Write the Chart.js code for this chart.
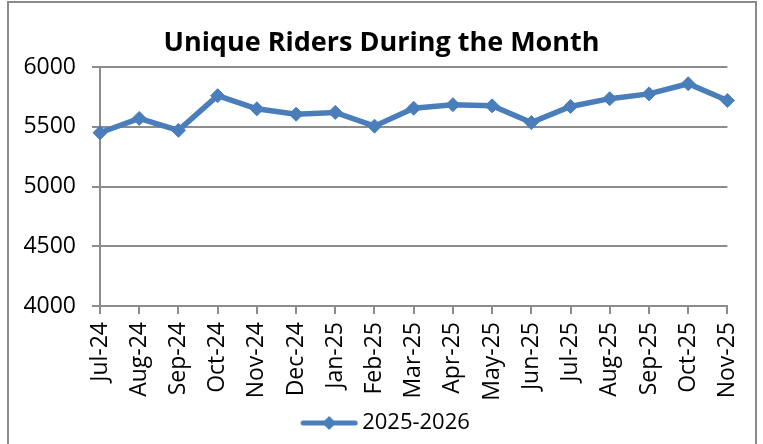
<!DOCTYPE html>
<html>
<head>
<meta charset="utf-8">
<script src="https://cdn.jsdelivr.net/npm/chart.js@4"></script>
<style>
html,body{margin:0;padding:0;background:#fff;}
#wrap{position:relative;width:763px;height:444px;}
</style>
</head>
<body>
<div id="wrap"><canvas id="c" width="763" height="444"></canvas></div>
<script>
const categories = ["Jul-24","Aug-24","Sep-24","Oct-24","Nov-24","Dec-24","Jan-25","Feb-25","Mar-25","Apr-25","May-25","Jun-25","Jul-25","Aug-25","Sep-25","Oct-25","Nov-25"];
const riders = [5450,5570,5470,5760,5650,5605,5620,5505,5655,5685,5675,5535,5670,5735,5775,5860,5720];
const seriesName = "2025-2026";
const chartTitle = "Unique Riders During the Month";
const yMin = 4000, yMax = 6000, yStep = 500;

const LINE = '#4A7EBB';
const GRID = '#8C8C8C';
const FONT = '"Open Sans", Lato, sans-serif';

// legend swatch: line with diamond
const sw = document.createElement('canvas');
sw.width = 58; sw.height = 16;
(function(){
  const g = sw.getContext('2d');
  g.strokeStyle = LINE; g.lineWidth = 5; g.lineCap = 'round';
  g.beginPath(); g.moveTo(3,8); g.lineTo(55,8); g.stroke();
  g.fillStyle = LINE;
  g.beginPath(); g.moveTo(29,1); g.lineTo(36,8); g.lineTo(29,15); g.lineTo(22,8); g.closePath(); g.fill();
})();

const framePlugin = {
  id: 'frame',
  beforeDraw(chart){
    const ctx = chart.ctx;
    ctx.save();
    ctx.fillStyle = '#fff';
    ctx.fillRect(0,0,chart.width,chart.height);
    ctx.strokeStyle = '#8A8A8A';
    ctx.lineWidth = 2;
    ctx.strokeRect(8, 2, 748, 470);
    ctx.restore();
    // centre title and legend on the whole chart frame, as in the original
    if (chart.titleBlock) { chart.titleBlock.left = 0; chart.titleBlock.right = 763; }
    if (chart.legend) { chart.legend.left = 0; chart.legend.right = 777; }
  }
};

new Chart(document.getElementById('c'), {
  type: 'line',
  data: {
    labels: categories,
    datasets: [{
      label: seriesName,
      data: riders,
      borderColor: LINE,
      backgroundColor: LINE,
      borderWidth: 5.5,
      pointStyle: 'rectRot',
      pointRadius: 7,
      pointBorderWidth: 1,
      pointBackgroundColor: LINE,
      pointBorderColor: LINE,
      tension: 0,
      fill: false
    }]
  },
  options: {
    responsive: false,
    animation: false,
    layout: { padding: { left: 0, right: 34, top: 0, bottom: 0 } },
    plugins: {
      title: {
        display: true,
        text: chartTitle,
        color: '#000',
        font: { family: FONT, size: 27, weight: 'bold' },
        padding: { top: 27, bottom: 7.6 }
      },
      legend: {
        position: 'bottom',
        labels: {
          color: '#000',
          font: { family: FONT, size: 22 },
          usePointStyle: true,
          pointStyle: sw,
          pointStyleWidth: 44,
          boxHeight: 16,
          padding: 6
        }
      },
      tooltip: { enabled: false }
    },
    scales: {
      x: {
        offset: false,
        grid: { display: true, drawOnChartArea: false, drawTicks: true, tickLength: 8, color: GRID, lineWidth: 2 },
        border: { display: true, color: GRID, width: 2 },
        ticks: {
          color: '#000',
          font: { family: FONT, size: 23 },
          minRotation: 90, maxRotation: 90,
          autoSkip: false,
          padding: 8
        },
        afterFit(s){ s.height = 100; }
      },
      y: {
        min: yMin, max: yMax,
        grid: { color: GRID, lineWidth: 2, drawTicks: true, tickLength: 8 },
        border: { display: true, color: GRID, width: 2 },
        ticks: {
          stepSize: yStep,
          color: '#000',
          font: { family: FONT, size: 23 },
          padding: 16,
          callback: (v) => String(v)
        },
        afterFit(s){ s.width = 100; }
      }
    }
  },
  plugins: [framePlugin]
});
</script>
</body>
</html>
